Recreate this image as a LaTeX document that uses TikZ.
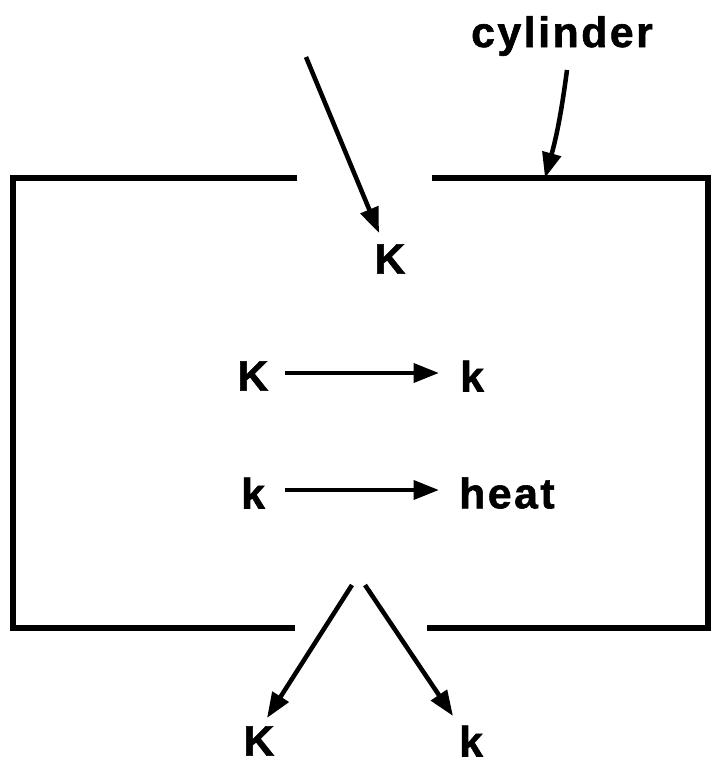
\documentclass[tikz,border=0pt]{standalone}
\usepackage{fontspec}
\setmainfont{Liberation Sans}
\usetikzlibrary{arrows.meta}
\newfontfamily\lblfont[LetterSpace=6,FakeBold=1.4]{Liberation Sans Bold}
\begin{document}
\begin{tikzpicture}[x=0.75pt,y=-0.75pt,
  wall/.style={line width=3.8pt},
  arr/.style={line width=3.4pt,-{Triangle[length=19pt,width=14pt]}},
  lbl/.style={inner sep=0pt,font=\lblfont\fontsize{32}{36}\selectfont}]
\useasboundingbox (0,0) rectangle (713,768);
% cylinder walls
\coordinate (tl) at (13,178);
\coordinate (tg1) at (297,178);
\coordinate (tg2) at (432,178);
\coordinate (tr) at (708,178);
\coordinate (bl) at (13,628);
\coordinate (bg1) at (295,628);
\coordinate (bg2) at (427,628);
\coordinate (br) at (708,628);
\draw[wall] (tg1) -- (tl) -- (bl) -- (bg1);
\draw[wall] (tg2) -- (tr) -- (br) -- (bg2);
% labels
\node[lbl] (cyl) at (562,36) {cylinder};
\node[lbl] (Kin) at (390,259) {K};
\node[lbl] (K1) at (253,376) {K};
\node[lbl] (k1) at (472,376) {k};
\node[lbl] (k2) at (253,493) {k};
\node[lbl,anchor=west] (heat) at (459,493) {heat};
\node[lbl] (Kout) at (259,741) {K};
\node[lbl] (kout) at (471,741) {k};
% arrows
\coordinate (inStart) at (306,57);
\coordinate (inTip) at (379,233);
\coordinate (cylStart) at (567,70);
\coordinate (cylTip) at (545,178);
\coordinate (outStart1) at (352,585);
\coordinate (outTip1) at (267,718);
\coordinate (outStart2) at (365,585);
\coordinate (outTip2) at (453,716);
\coordinate (r1s) at (285,373);
\coordinate (r1e) at (439,373);
\coordinate (r2s) at (285,490);
\coordinate (r2e) at (439,490);
\draw[arr] (inStart) -- (inTip);
\draw[arr] (cylStart) to[bend left=4] (cylTip);
\draw[arr] (r1s) -- (r1e);
\draw[arr] (r2s) -- (r2e);
\draw[arr] (outStart1) -- (outTip1);
\draw[arr] (outStart2) -- (outTip2);
\end{tikzpicture}
\end{document}
